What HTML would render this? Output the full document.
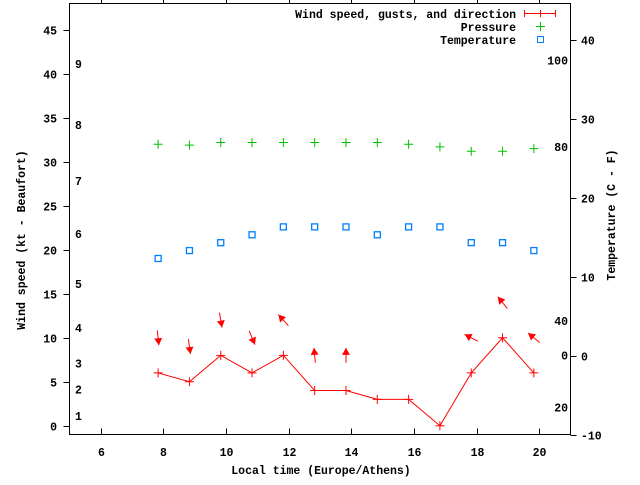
<!DOCTYPE html>
<html><head><meta charset="utf-8"><style>
html,body{margin:0;padding:0;background:#fff}
svg text{font-family:"Liberation Mono",monospace;font-weight:bold;font-size:11.5px;fill:#000}
</style></head><body>
<svg id="chart" width="640" height="480" xmlns="http://www.w3.org/2000/svg">
<g id="axes"></g>
<g id="marks"></g>
<text x="25" y="240" transform="rotate(-90 25 240)" text-anchor="middle">Wind speed (kt - Beaufort)</text>
<text x="615" y="215" transform="rotate(-90 615 215)" text-anchor="middle">Temperature (C - F)</text>
<text x="321" y="474" text-anchor="middle">Local time (Europe/Athens)</text>
<g>
<text x="516" y="18" text-anchor="end">Wind speed, gusts, and direction</text>
<text x="516" y="31" text-anchor="end">Pressure</text>
<text x="516" y="44" text-anchor="end">Temperature</text>
<g stroke="#ff0000"><line x1="524" y1="13.5" x2="556" y2="13.5"/><line x1="524.5" y1="10" x2="524.5" y2="17"/><line x1="555.5" y1="10" x2="555.5" y2="17"/><line x1="540.5" y1="10" x2="540.5" y2="17"/></g>
<g stroke="#00c000"><line x1="536" y1="26.5" x2="545" y2="26.5"/><line x1="540.5" y1="22" x2="540.5" y2="31"/></g>
<rect x="537.5" y="36.5" width="6" height="6" fill="none" stroke="#0080ff"/>
</g>
</svg>
<script>
const times=[7.83,8.83,9.83,10.83,11.83,12.83,13.83,14.83,15.83,16.83,17.83,18.83,19.83];
const windSpeed=[6,5,8,6,8,4,4,3,3,0,6,10,6];
const windDir=[354,352,350,337,138,175,180,null,null,null,117,141,129];
const pressure=[32.0,31.9,32.2,32.2,32.2,32.2,32.2,32.2,32.0,31.7,31.2,31.2,31.5];
const temperature=[12.3,13.3,14.3,15.3,16.3,16.3,16.3,15.3,16.3,16.3,14.3,14.3,13.3];
const xTicks=[6,8,10,12,14,16,18,20];
const yTicks=[0,5,10,15,20,25,30,35,40,45];
const y2Ticks=[-10,0,10,20,30,40];
const beaufortLabels=["1","2","3","4","5","6","7","8","9"];
const beaufortKt=[1.1,4.1,7.1,11.1,16.1,21.8,27.8,34.2,41.1];
const fahrLabels=["100","80","40","0","20"];
const fahrC=[37.4,26.4,4.4,0,-6.6];

const L=69.5,R=570.5,T=3.5,B=434.5;
const sx=v=>L+(v-5)/16*(R-L);
const sy=v=>B-(v+1)/49*(B-T);
const sy2=v=>B-(v+10)/54.6*(B-T);
const NS="http://www.w3.org/2000/svg";
function mk(tag,parent,attrs){const e=document.createElementNS(NS,tag);for(const k in attrs)e.setAttribute(k,attrs[k]);parent.appendChild(e);return e;}
const axes=document.getElementById('axes'),marks=document.getElementById('marks');
const frame=mk('rect',axes,{x:L,y:T,width:R-L,height:B-T,fill:'none',stroke:'#000'});


xTicks.forEach(v=>{const x=Math.round(sx(v))+0.5;
 const t=mk('path',axes,{d:`M${x} ${B}v-6M${x} ${T}v-4`,stroke:'#000'});
 
 
 const l=mk('text',axes,{x:x,y:456,'text-anchor':'middle'});l.textContent=v;
 
 });
yTicks.forEach(v=>{const y=Math.round(sy(v))+0.5;
 const t=mk('path',axes,{d:`M${L} ${y}h-6`,stroke:'#000'});
 
 
 const l=mk('text',axes,{x:57,y:y+4,'text-anchor':'end'});l.textContent=v;
 
 });
y2Ticks.forEach(v=>{const y=Math.round(sy2(v))+0.5;
 const t=mk('path',axes,{d:`M${R} ${y}h6`,stroke:'#000'});
 
 
 const l=mk('text',axes,{x:581,y:y+4,'text-anchor':'start'});l.textContent=v;
 
 });
beaufortLabels.forEach((s,i)=>{const l=mk('text',axes,{x:75,y:sy(beaufortKt[i])+4});l.textContent=s;
 
 });
fahrLabels.forEach((s,i)=>{const l=mk('text',axes,{x:568,y:sy2(fahrC[i])+4,'text-anchor':'end'});l.textContent=s;
 
 });
// wind line
const line=mk('polyline',marks,{points:times.map((t,i)=>sx(t)+','+sy(windSpeed[i])).join(' '),fill:'none',stroke:'#ff0000'});


times.forEach((t,i)=>{const x=sx(t),y=sy(windSpeed[i]);
 const p=mk('path',marks,{d:`M${x-4.5} ${y}h9M${x} ${y-4.5}v9`,stroke:'#ff0000'});
 
 
 const q=mk('path',marks,{d:`M${x-4.5} ${sy(pressure[i])}h9M${x} ${sy(pressure[i])-4.5}v9`,stroke:'#00c000'});
 
 
 const r=mk('rect',marks,{x:x-3,y:sy2(temperature[i])-3,width:6,height:6,fill:'none',stroke:'#0080ff','stroke-width':1.3});
 
 
 if(windDir[i]!==null){
  const cy=sy(windSpeed[i]+4),a=(windDir[i]+180)*Math.PI/180,len=15;
  const dx=Math.sin(a),dy=-Math.cos(a);
  const tx=x-dx*len/2,ty=cy-dy*len/2,hx=x+dx*len/2,hy=cy+dy*len/2;
  const g=mk('g',marks,{});
  
  
  mk('line',g,{x1:tx,y1:ty,x2:hx,y2:hy,stroke:'#ff0000'});
  const px=-dy,py=dx,h=7,w=4;
  const bx=hx-dx*h,by=hy-dy*h;
  mk('polygon',g,{points:`${hx},${hy} ${bx+px*w},${by+py*w} ${bx-px*w},${by-py*w}`,fill:'#ff0000'});
 }
});
</script>
</body></html>
